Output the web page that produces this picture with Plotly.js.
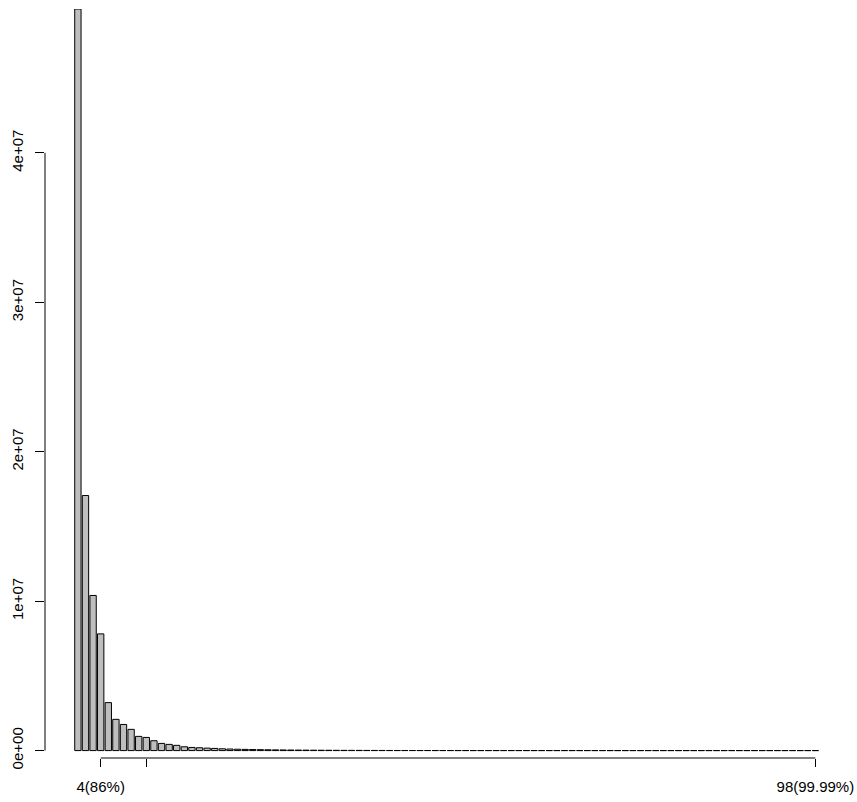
<!DOCTYPE html>
<html>
<head>
<meta charset="utf-8">
<script src="https://cdn.plot.ly/plotly-3.0.1.min.js"></script>
<style>html,body{margin:0;padding:0;background:#fff}</style>
</head>
<body>
<div id="chart" style="width:857px;height:802px"></div>
<script>
// Bar categories (1..98) and heights
const categories = [1,2,3,4,5,6,7,8,9,10,11,12,13,14,15,16,17,18,19,20,
  21,22,23,24,25,26,27,28,29,30,31,32,33,34,35,36,37,38,39,40,
  41,42,43,44,45,46,47,48,49,50,51,52,53,54,55,56,57,58,59,60,
  61,62,63,64,65,66,67,68,69,70,71,72,73,74,75,76,77,78,79,80,
  81,82,83,84,85,86,87,88,89,90,91,92,93,94,95,96,97,98];
const counts = [49630000,17070000,10380000,7810000,3210000,2090000,1750000,1420000,950000,880000,
  660000,480000,415000,350000,255000,210000,190000,165000,145000,120000,
  104000,91000,80000,70000,61000,54000,47000,42000,37000,33000,
  29000,26000,23000,20500,18000,16000,14500,13000,11500,10200,
  9100,8200,7300,6500,5800,5200,4700,4200,3800,3400,
  3100,2800,2500,2300,2100,1900,1700,1550,1400,1300,
  1180,1070,980,900,820,750,690,630,580,530,
  490,450,410,380,350,320,300,270,250,230,
  215,200,185,170,160,148,137,127,118,110,
  102,95,88,82,76,70,65,60];
const xTickVals = [4,10,98];
const xTickText = ["4(86%)","","98(99.99%)"];
const yTickVals = [0,10000000,20000000,30000000,40000000];
const yTickText = ["0e+00","1e+07","2e+07","3e+07","4e+07"];

const maxVal = Math.max(...counts);
const trace = {
  type: 'bar',
  x: categories,
  y: counts,
  width: 1/1.2,
  marker: {color: '#BEBEBE', line: {color: '#000', width: 1}},
  hoverinfo: 'x+y'
};
const font = {family: 'Liberation Sans, Arial, sans-serif', size: 15, color: '#000'};
const layout = {
  width: 857, height: 802,
  margin: {l: 45, r: 9, t: 9, b: 44},
  paper_bgcolor: '#fff', plot_bgcolor: '#fff',
  showlegend: false,
  font: font,
  xaxis: {
    range: [-3.325, 102.29], showgrid: false, zeroline: false, showline: false,
    tickmode: 'array', tickvals: xTickVals, ticktext: xTickText,
    ticks: 'outside', ticklen: 8, tickwidth: 1, tickcolor: '#000',
    ticklabelstandoff: 7, tickfont: font
  },
  yaxis: {
    range: [-0.01*maxVal, maxVal], showgrid: false, zeroline: false, showline: false,
    tickmode: 'array', tickvals: yTickVals, ticktext: yTickText,
    ticks: 'outside', ticklen: 9, tickwidth: 1, tickcolor: '#000',
    ticklabelstandoff: 6, tickangle: -90, tickfont: font
  },
  shapes: [
    {type: 'line', xref: 'paper', yref: 'y', x0: 0, x1: 0, y0: yTickVals[0], y1: yTickVals[yTickVals.length-1], line: {color: '#000', width: 1}},
    {type: 'line', xref: 'x', yref: 'paper', x0: xTickVals[0], x1: xTickVals[xTickVals.length-1], y0: 0, y1: 0, line: {color: '#000', width: 1}}
  ]
};
Plotly.newPlot('chart', [trace], layout, {displayModeBar: false, staticPlot: true});
</script>
</body>
</html>
